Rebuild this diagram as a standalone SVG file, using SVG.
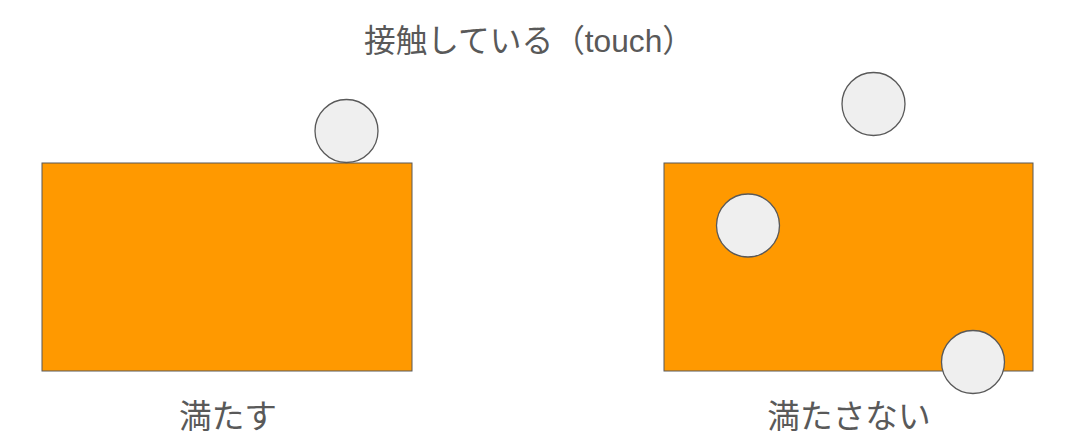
<svg xmlns="http://www.w3.org/2000/svg" width="1080" height="447" viewBox="0 0 1080 447">
<style>
.rect{fill:#ff9900;stroke:#595959;stroke-width:1}
.ball{fill:#efefef;stroke:#595959;stroke-width:1.3}
.t{font-family:"Liberation Sans","Noto Sans CJK JP",sans-serif;fill:#595959;text-anchor:middle}
</style>
<rect width="1080" height="447" fill="#ffffff"/>
<text class="t" x="529" y="52" font-size="31.7">接触している（touch）</text>
<g id="box-left"><rect class="rect" x="42" y="163" width="370" height="208"/></g>
<g id="ball-left"><circle class="ball" cx="346.5" cy="131" r="31.5"/></g>
<g id="box-right"><rect class="rect" x="664" y="163" width="369" height="208"/></g>
<g id="ball-top"><circle class="ball" cx="873.5" cy="104" r="31.5"/></g>
<g id="ball-mid"><circle class="ball" cx="748" cy="225.5" r="31.5"/></g>
<g id="ball-bottom"><circle class="ball" cx="973" cy="362" r="31.5"/></g>
<g id="connectors"></g>
<text class="t" x="228" y="428" font-size="32.7">満たす</text>
<text class="t" x="849" y="428" font-size="32.7">満たさない</text>
</svg>
